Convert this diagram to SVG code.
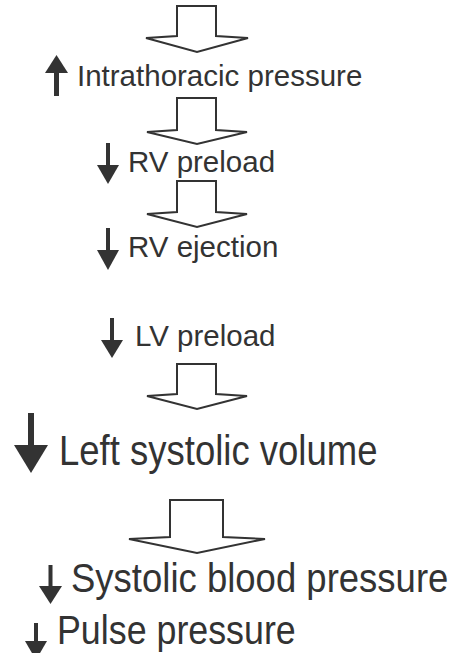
<svg xmlns="http://www.w3.org/2000/svg" width="454" height="653" viewBox="0 0 454 653">
  <defs>
    <style>
      .lbl { font-family: "Liberation Sans", Arial, Helvetica, sans-serif; fill: #333; }
      .sm { font-size: 29.5px; }
      .lg { font-size: 36.5px; }
      .flow { fill: #fff; stroke: #333; stroke-width: 2; stroke-linejoin: miter; }
      .ind { fill: #333; }
    </style>
  </defs>
  <rect width="454" height="653" fill="#fff"/>

  <!-- hollow flow arrows between steps -->
  <g id="connectors">
    <polygon class="flow" points="177,6 216,6 216,36 248,38 197,52 146,38 177,36"/>
    <polygon class="flow" points="177,98 216,98 216,130 247,132 197,144 147,132 177,130"/>
    <polygon class="flow" points="177,181 216,181 216,212 247,214 197,227 147,214 177,212"/>
    <polygon class="flow" points="177,364 216,364 216,394 247,396 197,409 147,396 177,394"/>
    <polygon class="flow" points="170,500 223,500 223,537 265,539 197,553 129,539 170,537"/>
  </g>

  <g id="intrathoracic">
    <rect class="ind" x="54" y="70" width="5" height="26"/>
    <polygon class="ind" points="56.5,55 68,73 45,73"/>
    <text class="lbl sm" x="77" y="86">Intrathoracic pressure</text>
  </g>

  <g id="rv-preload">
    <rect class="ind" x="106" y="143" width="4" height="24"/>
    <polygon class="ind" points="97,165 119,165 108,184"/>
    <text class="lbl sm" x="128" y="172">RV preload</text>
  </g>

  <g id="rv-ejection">
    <rect class="ind" x="106" y="228" width="4" height="24"/>
    <polygon class="ind" points="97,250 119,250 108,270"/>
    <text class="lbl sm" x="128" y="257">RV ejection</text>
  </g>

  <g id="lv-preload">
    <rect class="ind" x="110" y="318" width="4" height="24"/>
    <polygon class="ind" points="101,340 123,340 112,358"/>
    <text class="lbl sm" x="135" y="346">LV preload</text>
  </g>

  <!-- larger outcome labels are set slightly taller than wide -->
  <g id="left-systolic-volume">
    <rect class="ind" x="28" y="413" width="6" height="34"/>
    <polygon class="ind" points="14,445 48,445 31,473"/>
    <text class="lbl lg" transform="translate(59,465) scale(1,1.15)">Left systolic volume</text>
  </g>

  <g id="systolic-bp">
    <rect class="ind" x="48.5" y="565" width="4" height="23"/>
    <polygon class="ind" points="39,586 62,586 50.5,604"/>
    <text class="lbl lg" transform="translate(71,592) scale(1,1.12)">Systolic blood pressure</text>
  </g>

  <g id="pulse-pressure">
    <rect class="ind" x="34" y="623" width="4" height="20"/>
    <polygon class="ind" points="25,641 47,641 36,660"/>
    <text class="lbl" style="font-size:35.8px" transform="translate(57,644) scale(1,1.12)">Pulse pressure</text>
  </g>
</svg>
